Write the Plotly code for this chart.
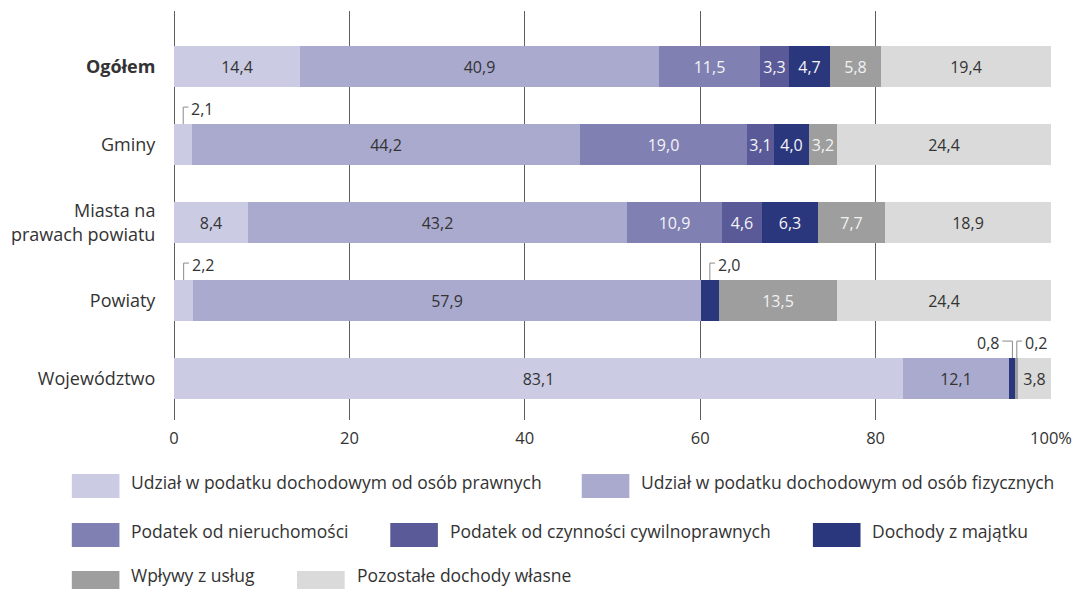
import plotly.graph_objects as go

# ---------------- data ----------------
categories = ["Ogółem", "Gminy", "Miasta na prawach powiatu", "Powiaty", "Województwo"]
category_labels = ["<b>Ogółem</b>", "Gminy", "Miasta na<br>prawach powiatu", "Powiaty", "Województwo"]

series_names = [
    "Udział w podatku dochodowym od osób prawnych",
    "Udział w podatku dochodowym od osób fizycznych",
    "Podatek od nieruchomości",
    "Podatek od czynności cywilnoprawnych",
    "Dochody z majątku",
    "Wpływy z usług",
    "Pozostałe dochody własne",
]
cit_share = [14.4, 2.1, 8.4, 2.2, 83.1]
pit_share = [40.9, 44.2, 43.2, 57.9, 12.1]
property_tax = [11.5, 19.0, 10.9, None, None]
civil_tax = [3.3, 3.1, 4.6, None, None]
property_income = [4.7, 4.0, 6.3, 2.0, 0.8]
services = [5.8, 3.2, 7.7, 13.5, 0.2]
other_own = [19.4, 24.4, 18.9, 24.4, 3.8]
series_values = [cit_share, pit_share, property_tax, civil_tax, property_income, services, other_own]

x_ticks = [0, 20, 40, 60, 80, 100]
x_ticktext = ["0", "20", "40", "60", "80", "100%"]

# ---------------- style ----------------
colors = ["#cbcbe3", "#aaaacf", "#8080b2", "#5a5a99", "#2b377d", "#9d9e9d", "#d9dad9"]
text_colors = ["#333333", "#333333", "#f4f4f8", "#f4f4f8", "#f4f4f8", "#f2f2f2", "#333333"]
FONT = "Open Sans"
W, H = 1083, 589
ML, MR, MT, MB = 171, 28, 11, 169
PW, PH = W - ML - MR, H - MT - MB
BAR_W = 0.525
CALLOUT_MIN = 2.5  # segments narrower than this get an outside label


def fmt(v):
    return f"{v:.1f}".replace(".", ",")


y_idx = list(range(len(categories)))

fig = go.Figure()
for name, vals, col, tcol in zip(series_names, series_values, colors, text_colors):
    texts = ["" if (v is None or v < CALLOUT_MIN) else fmt(v) for v in vals]
    fig.add_trace(go.Bar(
        name=name, orientation="h", y=y_idx, x=vals, width=BAR_W,
        marker=dict(color=col, line=dict(width=0)),
        text=texts, textposition="inside", insidetextanchor="middle",
        textangle=0, textfont=dict(family=FONT, size=16, color=tcol),
        showlegend=False, hoverinfo="x+name",
    ))

# callouts for small segments
shapes = []
annotations = []
callout_left = {(4, 4)}  # 0,8 label placed to the left
for ci in range(len(categories)):
    start = 0.0
    for si, vals in enumerate(series_values):
        v = vals[ci]
        if v is None:
            continue
        if v < CALLOUT_MIN:
            xc = start + v / 2
            ytop = ci - BAR_W / 2
            yline = ci - 0.48
            shapes.append(dict(type="line", xref="x", yref="y", x0=xc, x1=xc, y0=ytop, y1=yline,
                               line=dict(color="#8a8a8a", width=1)))
            if (ci, si) in callout_left:
                shapes.append(dict(type="line", xref="x", yref="y", x0=xc - 1.15, x1=xc, y0=yline, y1=yline,
                                   line=dict(color="#8a8a8a", width=1)))
                annotations.append(dict(x=xc - 1.15, y=yline, xref="x", yref="y", text=fmt(v),
                                        showarrow=False, xanchor="right", yanchor="middle", xshift=-1, yshift=-2,
                                        font=dict(family=FONT, size=16, color="#333333")))
            else:
                shapes.append(dict(type="line", xref="x", yref="y", x0=xc, x1=xc + 0.6, y0=yline, y1=yline,
                                   line=dict(color="#8a8a8a", width=1)))
                annotations.append(dict(x=xc + 0.6, y=yline, xref="x", yref="y", text=fmt(v),
                                        showarrow=False, xanchor="left", yanchor="middle", xshift=1, yshift=-2,
                                        font=dict(family=FONT, size=16, color="#333333")))
        start += v


# manual legend (pixel positions converted to paper coords)
def px_x(px):
    return (px - ML) / PW


def px_y(py):
    return (H - MB - py) / PH


legend_pos = [(68, 474), (582, 474), (68, 523), (389, 523), (815, 523), (68, 571), (295, 571)]
for (lx, ly), name, col in zip(legend_pos, series_names, colors):
    shapes.append(dict(type="rect", xref="paper", yref="paper",
                       x0=px_x(lx), x1=px_x(lx + 48), y0=px_y(ly), y1=px_y(ly + 24),
                       fillcolor=col, line=dict(width=0)))
    text_y = min(ly + 7.5, H - 14)
    annotations.append(dict(x=px_x(lx + 58), y=px_y(text_y), xref="paper", yref="paper",
                            text=name, showarrow=False, xanchor="left", yanchor="middle",
                            font=dict(family=FONT, size=17.5, color="#333333")))

fig.update_layout(
    width=W, height=H,
    margin=dict(l=ML, r=MR, t=MT, b=MB, pad=0),
    barmode="stack", bargap=0,
    plot_bgcolor="white", paper_bgcolor="white",
    font=dict(family=FONT, size=16, color="#333333"),
    uniformtext=dict(minsize=16, mode="show"),
    shapes=shapes, annotations=annotations,
    xaxis=dict(range=[0, 100], tickvals=x_ticks, ticktext=x_ticktext,
               showgrid=True, gridcolor="#5e5e5e", gridwidth=1.3,
               zeroline=True, zerolinecolor="#5e5e5e", zerolinewidth=1.3,
               showline=False, ticks="outside", ticklen=3, tickcolor="rgba(0,0,0,0)",
               tickfont=dict(family=FONT, size=16.5, color="#333333"), fixedrange=True),
    yaxis=dict(range=[4.532, -0.712], tickvals=y_idx, ticktext=category_labels,
               showgrid=False, zeroline=False, showline=False,
               ticks="outside", ticklen=14, tickcolor="rgba(0,0,0,0)",
               tickfont=dict(family=FONT, size=18, color="#333333"), fixedrange=True),
)

fig.write_html("out.html", config={"displayModeBar": False},
               post_script="document.body.style.margin='0';document.body.style.overflow='hidden';")
